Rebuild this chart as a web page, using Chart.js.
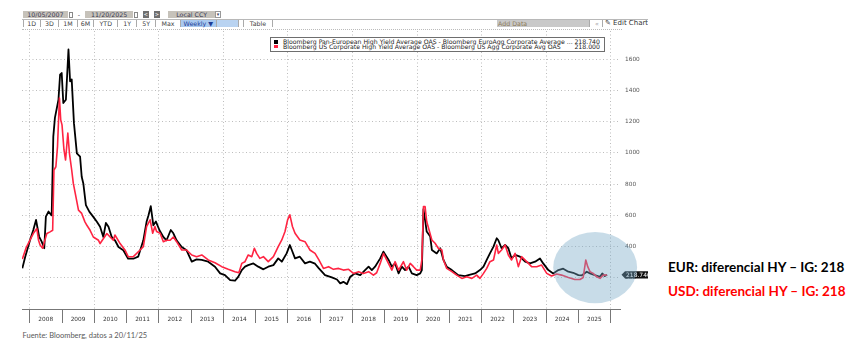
<!DOCTYPE html>
<html>
<head>
<meta charset="utf-8">
<script src="https://cdn.jsdelivr.net/npm/chart.js@4.4.1/dist/chart.umd.min.js"></script>
<style>
  body { margin: 0; width: 861px; height: 352px; background: #fff; position: relative; overflow: hidden; font-family: "DejaVu Sans", sans-serif; }
  .abs { position: absolute; box-sizing: border-box; white-space: nowrap; }
  .tb { position: absolute; box-sizing: border-box; height: 7px; font-size: 6.3px; line-height: 7px; color: #3a3a55; text-align: center; white-space: nowrap; }
  .gray { background: #c6c2ba; }
  .ic { position: absolute; width: 4px; height: 6px; top: 11.5px; border: 1px solid #888; box-sizing: border-box; background: #fff; }
  .bt { position: absolute; top: 11px; width: 5.5px; height: 6.5px; background: #707070; color: #fff; font-size: 5px; line-height: 6.5px; text-align: center; }
  .row2 { position: absolute; left: 22px; top: 18.5px; width: 626px; height: 8.5px; border-top: 1px solid #b8b8b8; overflow: hidden; }
  .row2 .tb { top: 0.5px; border-right: 1px solid #aaa; color: #444; }
  #wrap { position: absolute; left: 0; top: 0; width: 648px; height: 330px; }
  #legend { left: 270px; top: 36.7px; width: 335px; height: 15.6px; border: 1px solid #6e6e6e; background: #fff; font-size: 6.2px; color: #222; }
  #legend .ln { position: absolute; left: 2px; right: 4px; height: 5px; line-height: 5px; }
  #legend .sw { position: absolute; left: 0.7px; top: 0.5px; width: 4px; height: 3.6px; }
  #legend .nm { position: absolute; left: 10px; }
  #legend .vl { position: absolute; right: 0; }
  .note { position: absolute; left: 668px; font-family: Lato, sans-serif; font-weight: bold; font-size: 13.5px; line-height: 13.5px; white-space: nowrap; }
  #src { left: 22.5px; top: 331.5px; font-family: Lato, sans-serif; font-size: 7.5px; line-height: 7.5px; color: #595959; }
</style>
</head>
<body>
<!-- terminal toolbar -->
<div class="tb gray" style="left:22.7px;top:11px;width:45.6px">10/05/2007</div>
<div class="ic" style="left:68.5px"></div>
<div class="tb" style="left:76px;top:11px;width:6px">-</div>
<div class="tb gray" style="left:85px;top:11px;width:48.3px">11/20/2025</div>
<div class="ic" style="left:133.5px"></div>
<div class="bt" style="left:143px">&lt;</div>
<div class="bt" style="left:154px">&gt;</div>
<div class="tb gray" style="left:168.3px;top:11px;width:46.7px">Local CCY</div>
<div class="tb" style="left:215px;top:11px;width:6px;border:1px solid #999;font-size:5px;line-height:5px">&#9662;</div>
<div class="row2">
  <div class="tb" style="left:0.7px;width:18px;border-left:1px solid #aaa">1D</div>
  <div class="tb" style="left:18.7px;width:18.6px">3D</div>
  <div class="tb" style="left:37.3px;width:18.4px">1M</div>
  <div class="tb" style="left:55.7px;width:16.6px">6M</div>
  <div class="tb" style="left:72.3px;width:24px">YTD</div>
  <div class="tb" style="left:96.3px;width:19px">1Y</div>
  <div class="tb" style="left:115.3px;width:18.7px">5Y</div>
  <div class="tb" style="left:134px;width:25px">Max</div>
  <div class="tb" style="left:159px;width:35.7px;background:#a9c9ef;color:#1d3c96">Weekly &#9660;</div>
  <div class="tb" style="left:194.7px;width:22.6px;background:#b9d3f1"></div>
  <div class="tb" style="left:221px;width:30px;border-left:1px solid #aaa">Table</div>
  <div class="tb" style="left:475px;width:93px;background:#c9c9c9;color:#8c7a58;text-align:left;padding-left:1px">Add Data</div>
  <div class="tb" style="left:570px;width:11px;color:#999">&#171;</div>
  <div class="tb" style="left:583px;width:50px;border-right:none;text-align:left;color:#333;font-size:7px">&#9998; Edit Chart</div>
</div>
<div class="abs" style="left:22px;top:29px;width:600px;border-top:1px dotted #bbb"></div>

<div id="wrap"><canvas id="chart"></canvas></div>

<div id="legend" class="abs"></div>

<div class="note" style="top:261px;color:#000">EUR: diferencial HY – IG: 218</div>
<div class="note" style="top:284.5px;color:#ff0000">USD: diferencial HY – IG: 218</div>
<div id="src" class="abs">Fuente: Bloomberg, datos a 20/11/25</div>

<script>
// ---- data (decimal years, OAS spread HY minus IG, bp) ----
const seriesNames = [
  'Bloomberg Pan-European High Yield Average OAS - Bloomberg EuroAgg Corporate Average ...',
  'Bloomberg US Corporate High Yield Average OAS - Bloomberg US Agg Corporate Avg OAS'
];
const lastValues = [218.740, 218.000];

const eurDates = [
  2007.77, 2007.86, 2008.01, 2008.11, 2008.195, 2008.29, 2008.37, 2008.45, 2008.50, 2008.58,
  2008.68, 2008.73, 2008.78, 2008.89, 2008.94, 2008.99, 2009.04, 2009.12, 2009.20, 2009.25,
  2009.30, 2009.37, 2009.46, 2009.56, 2009.61, 2009.66, 2009.74, 2009.85, 2009.97, 2010.08,
  2010.18, 2010.28, 2010.36, 2010.44, 2010.54, 2010.64, 2010.75, 2010.90, 2011.05, 2011.21,
  2011.36, 2011.52, 2011.62, 2011.68, 2011.75, 2011.83, 2011.91, 2012.02, 2012.14, 2012.24,
  2012.37, 2012.45, 2012.55, 2012.71, 2012.86, 2013.02, 2013.17, 2013.33, 2013.53, 2013.74,
  2013.90, 2014.05, 2014.21, 2014.36, 2014.46, 2014.57, 2014.67, 2014.77, 2014.93, 2015.08,
  2015.24, 2015.39, 2015.55, 2015.70, 2015.81, 2015.96, 2016.06, 2016.12, 2016.22, 2016.37,
  2016.53, 2016.68, 2016.84, 2016.96, 2017.15, 2017.36, 2017.52, 2017.62, 2017.72, 2017.83,
  2017.93, 2018.08, 2018.24, 2018.39, 2018.50, 2018.60, 2018.70, 2018.86, 2018.96, 2019.12,
  2019.22, 2019.32, 2019.43, 2019.53, 2019.63, 2019.74, 2019.84, 2019.99, 2020.10, 2020.15,
  2020.20, 2020.25, 2020.30, 2020.41, 2020.46, 2020.61, 2020.72, 2020.82, 2020.92, 2021.08,
  2021.28, 2021.49, 2021.59, 2021.80, 2021.95, 2022.06, 2022.16, 2022.26, 2022.37, 2022.47,
  2022.52, 2022.62, 2022.73, 2022.83, 2022.93, 2023.04, 2023.19, 2023.35, 2023.50, 2023.66,
  2023.81, 2023.91, 2024.07, 2024.22, 2024.38, 2024.53, 2024.69, 2024.84, 2025.00, 2025.10,
  2025.26, 2025.36, 2025.51, 2025.67, 2025.74, 2025.82, 2025.89
];
const eurSpread = [
  260, 335, 442, 506, 570, 464, 431, 389, 592, 624,
  600, 1104, 1224, 1340, 1500, 1511, 1319, 1340, 1662, 1458,
  1470, 1190, 997, 975, 847, 804, 665, 622, 590, 558,
  526, 461, 551, 526, 461, 440, 397, 376, 322, 322,
  335, 440, 558, 600, 658, 536, 560, 504, 461, 440,
  506, 485, 440, 397, 376, 303, 318, 314, 303, 271,
  228, 217, 185, 181, 206, 249, 271, 281, 292, 271,
  254, 271, 281, 324, 303, 356, 410, 378, 324, 335,
  292, 303, 290, 260, 217, 202, 189, 164, 174, 159,
  206, 228, 217, 249, 271, 249, 271, 324, 367, 314,
  271, 292, 228, 271, 249, 271, 228, 217, 228, 249,
  640, 571, 496, 464, 378, 356, 389, 314, 271, 249,
  217, 211, 217, 228, 249, 271, 314, 356, 399, 453,
  440, 389, 410, 389, 324, 346, 335, 303, 292, 303,
  324, 292, 249, 228, 249, 258, 239, 232, 217, 215,
  239, 228, 217, 206, 228, 211, 219
];

const usdDates = [
  2007.77, 2007.89, 2008.01, 2008.11, 2008.22, 2008.27, 2008.32, 2008.40, 2008.47, 2008.53,
  2008.63, 2008.71, 2008.75, 2008.81, 2008.86, 2008.92, 2008.96, 2009.00, 2009.06, 2009.11,
  2009.18, 2009.23, 2009.30, 2009.35, 2009.43, 2009.51, 2009.61, 2009.71, 2009.77, 2009.87,
  2009.97, 2010.13, 2010.18, 2010.39, 2010.49, 2010.59, 2010.64, 2010.80, 2010.95, 2011.05,
  2011.21, 2011.42, 2011.52, 2011.62, 2011.73, 2011.81, 2011.88, 2011.93, 2012.04, 2012.14,
  2012.24, 2012.35, 2012.45, 2012.55, 2012.71, 2012.86, 2013.02, 2013.17, 2013.33, 2013.53,
  2013.74, 2013.95, 2014.15, 2014.36, 2014.48, 2014.57, 2014.67, 2014.77, 2014.88, 2014.96,
  2015.03, 2015.13, 2015.24, 2015.39, 2015.55, 2015.70, 2015.81, 2015.91, 2015.99, 2016.06,
  2016.14, 2016.22, 2016.37, 2016.53, 2016.68, 2016.84, 2016.96, 2017.10, 2017.26, 2017.41,
  2017.57, 2017.72, 2017.88, 2018.03, 2018.19, 2018.34, 2018.50, 2018.65, 2018.75, 2018.86,
  2018.96, 2019.06, 2019.22, 2019.32, 2019.43, 2019.58, 2019.68, 2019.79, 2019.89, 2019.99,
  2020.10, 2020.15, 2020.20, 2020.25, 2020.30, 2020.46, 2020.56, 2020.66, 2020.77, 2020.82,
  2020.92, 2021.08, 2021.23, 2021.39, 2021.54, 2021.70, 2021.85, 2021.95, 2022.06, 2022.16,
  2022.26, 2022.37, 2022.47, 2022.52, 2022.62, 2022.73, 2022.83, 2022.93, 2023.04, 2023.14,
  2023.24, 2023.40, 2023.55, 2023.71, 2023.86, 2024.02, 2024.17, 2024.33, 2024.48, 2024.69,
  2024.89, 2025.05, 2025.15, 2025.23, 2025.29, 2025.36, 2025.46, 2025.57, 2025.67, 2025.77,
  2025.89
];
const usdSpread = [
  320, 393, 442, 483, 515, 442, 410, 389, 442, 483,
  494, 504, 890, 911, 1040, 1351, 1211, 1179, 1020, 954,
  1126, 997, 890, 804, 719, 633, 612, 558, 536, 504,
  461, 440, 419, 483, 461, 440, 474, 419, 378, 335,
  335, 378, 399, 528, 571, 485, 528, 496, 485, 431,
  440, 440, 461, 431, 378, 378, 346, 335, 346, 314,
  296, 271, 254, 239, 232, 292, 303, 346, 335, 389,
  356, 324, 335, 303, 335, 399, 442, 496, 571, 603,
  528, 485, 442, 431, 378, 356, 314, 260, 271, 254,
  260, 249, 254, 228, 239, 228, 239, 217, 232, 292,
  356, 314, 249, 303, 249, 303, 249, 292, 271, 249,
  249, 314, 656, 656, 560, 442, 421, 389, 378, 314,
  260, 239, 217, 196, 206, 196, 217, 196, 228, 260,
  303, 314, 410, 356, 378, 410, 346, 314, 356, 271,
  335, 303, 271, 271, 281, 228, 211, 224, 217, 202,
  189, 189, 202, 314, 271, 239, 228, 206, 196, 217,
  218
];

const yearTicks = [2008, 2009, 2010, 2011, 2012, 2013, 2014, 2015, 2016, 2017, 2018,
                   2019, 2020, 2021, 2022, 2023, 2024, 2025, 2026];
const valueTicks = [200, 400, 600, 800, 1000, 1200, 1400, 1600];

const EUR_COLOR = '#000000';
const USD_COLOR = '#ff2442';

// ---- legend box ----
const legend = document.getElementById('legend');
[EUR_COLOR, USD_COLOR].forEach((c, i) => {
  const ln = document.createElement('div');
  ln.className = 'ln';
  ln.style.top = (1.8 + i * 4.6) + 'px';
  ln.innerHTML = `<span class="sw" style="background:${c}"></span>` +
    `<span class="nm">${seriesNames[i]}</span><span class="vl">${lastValues[i].toFixed(3)}</span>`;
  legend.appendChild(ln);
});

// ---- tag on right axis + highlight ellipse ----
const overlayPlugin = {
  id: 'overlay',
  afterDraw(chart) {
    const { ctx, chartArea, scales: { x, y } } = chart;
    // last value tag
    const ty = y.getPixelForValue(lastValues[0]);
    const tx = chartArea.right + 1.5;
    ctx.save();
    ctx.fillStyle = '#111';
    ctx.beginPath();
    ctx.moveTo(tx, ty);
    ctx.lineTo(tx + 3.5, ty - 3.6);
    ctx.lineTo(chart.width, ty - 3.6);
    ctx.lineTo(chart.width, ty + 3.6);
    ctx.lineTo(tx + 3.5, ty + 3.6);
    ctx.closePath();
    ctx.fill();
    ctx.fillStyle = '#fff';
    ctx.font = '6px "DejaVu Sans"';
    ctx.textBaseline = 'middle';
    ctx.fillText(lastValues[0].toFixed(3), tx + 4.5, ty + 0.3);
    // highlight ellipse over the last two years
    const cx = x.getPixelForValue(2025.52);
    const cy = y.getPixelForValue(265);
    const rx = x.getPixelForValue(2025.52) - x.getPixelForValue(2024.22);
    const ry = y.getPixelForValue(265) - y.getPixelForValue(493);
    ctx.fillStyle = 'rgba(117,167,197,0.4)';
    ctx.beginPath();
    ctx.ellipse(cx, cy, rx, ry, 0, 0, Math.PI * 2);
    ctx.fill();
    ctx.restore();
  }
};

const tickFont = { family: 'DejaVu Sans', size: 5.8 };

new Chart(document.getElementById('chart'), {
  type: 'line',
  data: {
    datasets: [
      {
        label: seriesNames[0],
        data: eurDates.map((d, i) => ({ x: d, y: eurSpread[i] })),
        borderColor: EUR_COLOR, borderWidth: 1.8, pointRadius: 0, order: 1
      },
      {
        label: seriesNames[1],
        data: usdDates.map((d, i) => ({ x: d, y: usdSpread[i] })),
        borderColor: USD_COLOR, borderWidth: 1.6, pointRadius: 0, order: 0
      }
    ]
  },
  options: {
    responsive: true, maintainAspectRatio: false, animation: false,
    layout: { padding: { left: 22, top: 31, right: 0, bottom: 0 } },
    elements: { line: { tension: 0, borderJoinStyle: 'round' } },
    plugins: { legend: { display: false }, tooltip: { enabled: false } },
    scales: {
      x: {
        type: 'linear', min: 2007.76, max: 2026.29,
        afterBuildTicks: s => { s.ticks = yearTicks.map(v => ({ value: v })); },
        afterFit: s => { s.height = 21; },
        grid: {
          color: c => (c.tick && c.tick.value % 2 === 0) ? '#bdbdbd' : 'rgba(0,0,0,0)',
          tickColor: '#777', tickLength: 14, tickBorderDash: []
        },
        border: { display: true, color: '#777', dash: [1, 2.5] },
        ticks: {
          autoSkip: false, maxRotation: 0, labelOffset: 16, padding: -7,
          color: '#333', font: tickFont,
          callback: v => v < 2026 ? String(v) : ''
        }
      },
      y: {
        position: 'right', min: 0, max: 1780,
        afterBuildTicks: s => { s.ticks = valueTicks.map(v => ({ value: v })); },
        afterFit: s => { s.width = 28; },
        grid: { color: '#bdbdbd', drawTicks: false },
        border: { display: false, dash: [1, 2.5] },
        ticks: { padding: 5, color: '#555', font: tickFont, callback: v => String(v) }
      }
    }
  },
  plugins: [overlayPlugin]
});
</script>
</body>
</html>
